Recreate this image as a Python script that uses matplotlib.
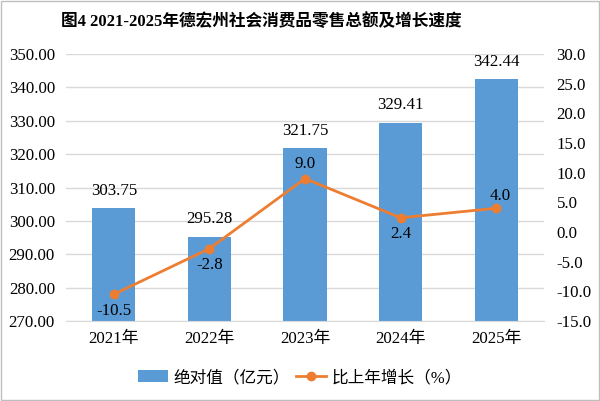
import matplotlib
matplotlib.use('Agg')
import matplotlib.pyplot as plt
from matplotlib.lines import Line2D
from matplotlib.patches import Patch
import numpy as np

plt.rcParams['font.family'] = ['Liberation Serif', 'Noto Sans CJK SC']

years = ['2021年', '2022年', '2023年', '2024年', '2025年']
amount = [303.75, 295.28, 321.75, 329.41, 342.44]
growth = [-10.5, -2.8, 9.0, 2.4, 4.0]
left_ticks = [270, 280, 290, 300, 310, 320, 330, 340, 350]
right_ticks = [-15, -10, -5, 0, 5, 10, 15, 20, 25, 30]

bar_color = '#5B9BD5'
line_color = '#ED7D31'
fs = 12.2

fig = plt.figure(figsize=(6, 4.01), dpi=100)
ax = fig.add_axes([66 / 600, 1 - 321 / 401, 478 / 600, 267 / 401])
ax2 = ax.twinx()

x = np.arange(len(years))
ax.bar(x, amount, width=0.45, color=bar_color, zorder=2)
ax.set_xlim(-0.5, len(years) - 0.5)
ax.set_ylim(270, 350)
ax.set_yticks(left_ticks)
ax.set_yticklabels([f'{v:.2f}' for v in left_ticks])
ax.set_xticks(x)
ax.set_xticklabels(years)
ax.grid(axis='y', color='#D9D9D9', linewidth=1, zorder=0)
ax.set_axisbelow(True)
for s in ax.spines.values():
    s.set_visible(False)
for s in ax2.spines.values():
    s.set_visible(False)
ax.spines['bottom'].set_visible(True)
ax.spines['bottom'].set_color('#D9D9D9')
ax.tick_params(axis='both', length=0, labelsize=fs, pad=8)
ax.tick_params(axis='x', pad=7)

for xi, v in zip(x, amount):
    ax.annotate(f'{v:.2f}', (xi, v), xytext=(0, 7), textcoords='offset points',
                ha='center', va='bottom', fontsize=fs)

ax2.plot(x, growth, color=line_color, linewidth=2, marker='o', markersize=6, zorder=3)
ax2.set_ylim(-15, 30)
ax2.set_yticks(right_ticks)
ax2.set_yticklabels([f'{v:.1f}' for v in right_ticks])
ax2.tick_params(axis='y', length=0, labelsize=fs, pad=9)

offsets = [(0, -6, 'top'), (0, -6, 'top'), (0, 5, 'bottom'), (0, -6, 'top'), (3, 3, 'bottom')]
for xi, v, (dx, dy, va) in zip(x, growth, offsets):
    ax2.annotate(f'{v:.1f}', (xi, v), xytext=(dx, dy), textcoords='offset points',
                 ha='center', va=va, fontsize=fs)

fig.suptitle('图4 2021-2025年德宏州社会消费品零售总额及增长速度', x=0.435, y=0.968,
             fontsize=12, fontweight='bold')

handles = [Patch(facecolor=bar_color, label='绝对值（亿元）'),
           Line2D([0], [0], color=line_color, linewidth=2, marker='o', markersize=6,
                  label='比上年增长（%）')]
fig.legend(handles=handles, loc='center', bbox_to_anchor=(0.5, 1 - 378 / 401), ncol=2,
           frameon=False, fontsize=12, handlelength=1.8, columnspacing=0.4, handletextpad=0.3)

fig.patches.append(plt.Rectangle((0.002, 0.002), 0.996, 0.996, transform=fig.transFigure,
                                 fill=False, edgecolor='#BFBFBF', linewidth=1))

fig.savefig('out.png', dpi=100)
